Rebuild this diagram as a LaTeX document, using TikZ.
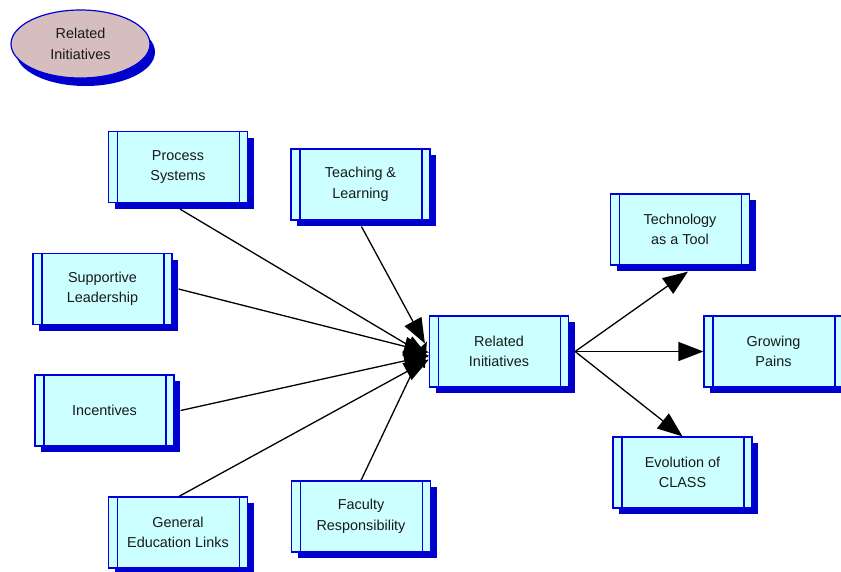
\documentclass[tikz,border=0pt]{standalone}
\usepackage{fontspec}
\setmainfont{Liberation Sans}
\usetikzlibrary{shapes.geometric,shadows,arrows.meta}
\definecolor{edgeblue}{RGB}{0,0,220}
\definecolor{shadeblue}{RGB}{0,0,205}
\definecolor{boxfill}{RGB}{204,255,255}
\definecolor{ovalfill}{RGB}{214,190,190}
\tikzset{
  procbox/.style={rectangle, draw=edgeblue, line width=1.2pt, fill=boxfill,
    minimum width=139pt, minimum height=71pt, inner sep=0pt,
    align=center, font=\fontsize{14.4}{20.5}\selectfont, text=black!90,
    drop shadow={shadow xshift=6pt, shadow yshift=-6pt, fill=shadeblue, opacity=1},
    path picture={
      \draw[edgeblue, line width=1.2pt]
        ([xshift=9pt]path picture bounding box.north west) --
        ([xshift=9pt]path picture bounding box.south west);
      \draw[edgeblue, line width=1.2pt]
        ([xshift=-8pt]path picture bounding box.north east) --
        ([xshift=-8pt]path picture bounding box.south east);
    }},
  oval/.style={ellipse, draw=edgeblue, line width=1.2pt, fill=ovalfill,
    minimum width=139pt, minimum height=68pt, inner sep=0pt,
    align=center, font=\fontsize{14.4}{20.5}\selectfont, text=black!90,
    drop shadow={shadow xshift=5pt, shadow yshift=-8pt, fill=shadeblue, opacity=1}},
  link/.style={line width=1.3pt, -{Triangle[length=25pt,width=19pt]}}
}
\begin{document}
\begin{tikzpicture}[x=1pt,y=-1pt]
\useasboundingbox (0,0) rectangle (841,571);

% legend oval
\node[oval] (legend) at (80.5,44) {Related\\Initiatives};

% contributing initiatives
\node[procbox] (ps)  at (178,167)   {Process\\Systems};
\node[procbox] (tl)  at (360.5,184.5) {Teaching \&\\Learning};
\node[procbox] (sl)  at (102.5,289) {Supportive\\Leadership};
\node[procbox] (inc) at (104.5,410.5) {Incentives};
\node[procbox] (gel) at (178,532.5) {General\\Education Links};
\node[procbox] (fr)  at (361,516.5) {Faculty\\Responsibility};

% hub
\node[procbox] (ri)  at (499,351.5) {Related\\Initiatives};

% outcomes
\node[procbox] (tech) at (680,229.5) {Technology\\as a Tool};
\node[procbox] (gp)   at (773.5,351.5) {Growing\\Pains};
\node[procbox] (evo)  at (682.5,472.5) {Evolution of\\CLASS};

% incoming links
\draw[link] ([shift={(2,6)}]ps.south) -- ([yshift=-6pt]ri.west);
\draw[link] ([shift={(1,6)}]tl.south) -- ([shift={(-4,-8)}]ri.west);
\draw[link] ([xshift=6pt]sl.east) -- ([yshift=-1pt]ri.west);
\draw[link] ([xshift=6pt]inc.east) -- ([yshift=-4pt]ri.west);
\draw[link] ([xshift=1pt]gel.north) -- ([yshift=-8pt]ri.west);
\draw[link] (fr.north) -- ([shift={(-2,-10)}]ri.west);

% outgoing links
\draw[link] ([xshift=6pt]ri.east) -- ([shift={(8,6)}]tech.south);
\draw[link] ([xshift=6pt]ri.east) -- (gp.west);
\draw[link] ([xshift=6pt]ri.east) -- (evo.north);
\end{tikzpicture}
\end{document}
